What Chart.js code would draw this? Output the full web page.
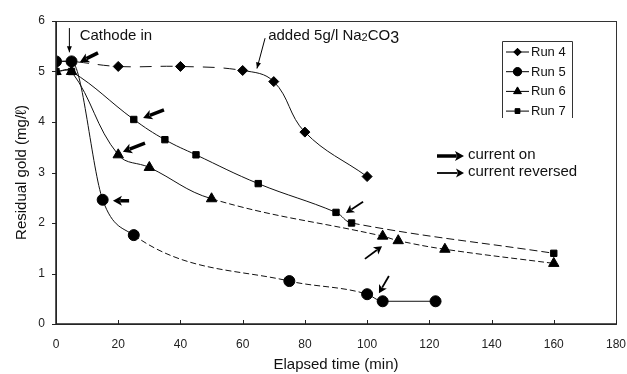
<!DOCTYPE html>
<html>
<head>
<meta charset="utf-8">
<script src="https://cdn.jsdelivr.net/npm/chart.js@4.4.0/dist/chart.umd.min.js"></script>
<style>
  html, body { margin: 0; padding: 0; background: #fff; }
  #wrap { width: 627px; height: 374px; }
</style>
</head>
<body>
<div id="wrap"><canvas id="goldChart" width="627" height="374"></canvas></div>
<script>
// elapsed time (min) and residual gold (mg/l) for each run
var run4X = [0, 5, 20, 40, 60, 70, 80, 100];
var run4Y = [5.2, 5.2, 5.1, 5.1, 5.02, 4.8, 3.8, 2.92];
var run5X = [0, 5, 15, 25, 75, 100, 105, 122];
var run5Y = [5.2, 5.2, 2.46, 1.76, 0.85, 0.59, 0.45, 0.45];
var run6X = [0, 5, 20, 30, 50, 105, 110, 125, 160];
var run6Y = [5.0, 5.0, 3.35, 3.1, 2.48, 1.74, 1.65, 1.48, 1.2];
var run7X = [0, 5, 25, 35, 45, 65, 90, 95, 160];
var run7Y = [5.0, 5.0, 4.05, 3.65, 3.35, 2.78, 2.21, 2.0, 1.4];

var runNames = ['Run 4', 'Run 5', 'Run 6', 'Run 7'];
var xTicks = [0, 20, 40, 60, 80, 100, 120, 140, 160, 180];
var yTicks = [0, 1, 2, 3, 4, 5, 6];

// arrows on the plot, in data units: [x0, y0, x1, y1, thick]
var arrows = [
  [13.5, 5.37, 7.7, 5.19, true],
  [34.7, 4.24, 28.0, 4.08, true],
  [28.6, 3.58, 21.5, 3.41, true],
  [23.5, 2.44, 18.3, 2.44, true],
  [98.7, 2.42, 93.2, 2.20, false],
  [99.3, 1.29, 104.8, 1.54, false],
  [107.0, 0.95, 103.8, 0.61, false]
];

var FONT = '"Liberation Sans", Arial, sans-serif';

function pts(xs, ys) {
  return xs.map(function (x, i) { return { x: x, y: ys[i] }; });
}

var longDash = [12, 9];
var shortDash = [6, 3];

// which segments (by start index) are dashed
function dashFrom(list, pattern) {
  return function (ctx) {
    return list.indexOf(ctx.p0DataIndex) >= 0 ? pattern : undefined;
  };
}

var styles = [
  { pointStyle: 'rectRot', radius: 5, dash: dashFrom([0, 1, 2, 3], longDash), mode: 'default' },
  { pointStyle: 'circle', radius: 5.5, dash: dashFrom([3, 4], shortDash), mode: 'monotone' },
  { pointStyle: 'triangle', radius: 6, dash: dashFrom([4, 5, 6, 7], shortDash), mode: 'default' },
  { pointStyle: 'rect', radius: 4.5, dash: dashFrom([7], [8, 4]), mode: 'default' }
];

var series = [pts(run4X, run4Y), pts(run5X, run5Y), pts(run6X, run6Y), pts(run7X, run7Y)];

var datasets = series.map(function (d, i) {
  return {
    label: runNames[i],
    data: d,
    showLine: true,
    tension: 0.4,
    cubicInterpolationMode: styles[i].mode,
    borderColor: '#111',
    borderWidth: 1,
    backgroundColor: '#000',
    pointStyle: styles[i].pointStyle,
    pointRadius: styles[i].radius,
    pointBackgroundColor: '#000',
    pointBorderColor: '#000',
    segment: { borderDash: styles[i].dash }
  };
});

function drawArrow(ctx, x0, y0, x1, y1, thick) {
  var ang = Math.atan2(y1 - y0, x1 - x0);
  var headLen = thick ? 9 : 8;
  var headW = thick ? 5 : 4.5;
  var c = Math.cos(ang), s = Math.sin(ang);
  ctx.save();
  ctx.strokeStyle = '#000';
  ctx.fillStyle = '#000';
  ctx.lineWidth = thick ? 3.5 : 1.8;
  ctx.beginPath();
  ctx.moveTo(x0, y0);
  ctx.lineTo(x1 - c * headLen * 0.8, y1 - s * headLen * 0.8);
  ctx.stroke();
  ctx.beginPath();
  ctx.moveTo(x1, y1);
  ctx.lineTo(x1 - c * headLen - s * headW, y1 - s * headLen + c * headW);
  ctx.lineTo(x1 - c * headLen * 0.75, y1 - s * headLen * 0.75);
  ctx.lineTo(x1 - c * headLen + s * headW, y1 - s * headLen - c * headW);
  ctx.closePath();
  ctx.fill();
  ctx.restore();
}

function drawThin(ctx, x0, y0, x1, y1) {
  var ang = Math.atan2(y1 - y0, x1 - x0);
  var c = Math.cos(ang), s = Math.sin(ang);
  ctx.save();
  ctx.strokeStyle = '#000';
  ctx.fillStyle = '#000';
  ctx.lineWidth = 1;
  ctx.beginPath();
  ctx.moveTo(x0, y0);
  ctx.lineTo(x1, y1);
  ctx.stroke();
  ctx.beginPath();
  ctx.moveTo(x1, y1);
  ctx.lineTo(x1 - c * 6 - s * 2.5, y1 - s * 6 + c * 2.5);
  ctx.lineTo(x1 - c * 6 + s * 2.5, y1 - s * 6 - c * 2.5);
  ctx.closePath();
  ctx.fill();
  ctx.restore();
}

var decorations = {
  id: 'decorations',
  afterDatasetsDraw: function (chart) {
    var ctx = chart.ctx;
    var a = chart.chartArea;
    var xs = chart.scales.x, ys = chart.scales.y;

    // frame
    ctx.save();
    ctx.strokeStyle = '#333';
    ctx.lineWidth = 1;
    ctx.strokeRect(a.left + 0.5, a.top + 0.5, a.right - a.left, a.bottom - a.top);
    ctx.strokeStyle = '#222';
    ctx.lineWidth = 1.5;
    ctx.beginPath();
    ctx.moveTo(a.left, a.top); ctx.lineTo(a.left, a.bottom); ctx.lineTo(a.right, a.bottom);
    ctx.stroke();
    // tick marks: x inward, y outward
    ctx.lineWidth = 1;
    xTicks.forEach(function (t) {
      var px = Math.round(xs.getPixelForValue(t)) + 0.5;
      ctx.beginPath(); ctx.moveTo(px, a.bottom); ctx.lineTo(px, a.bottom - 4); ctx.stroke();
    });
    yTicks.forEach(function (t) {
      var py = Math.round(ys.getPixelForValue(t)) + 0.5;
      ctx.beginPath(); ctx.moveTo(a.left, py); ctx.lineTo(a.left - 4, py); ctx.stroke();
    });
    ctx.restore();

    // arrows on curves
    arrows.forEach(function (r) {
      drawArrow(ctx, xs.getPixelForValue(r[0]), ys.getPixelForValue(r[1]),
        xs.getPixelForValue(r[2]), ys.getPixelForValue(r[3]), r[4]);
    });

    // notes
    ctx.save();
    ctx.fillStyle = '#111';
    ctx.textBaseline = 'middle';
    ctx.font = '15px ' + FONT;
    ctx.fillText('Cathode in', xs.getPixelForValue(7.6), ys.getPixelForValue(5.71));
    drawThin(ctx, xs.getPixelForValue(4.3), ys.getPixelForValue(5.86), xs.getPixelForValue(4.3), ys.getPixelForValue(5.38));

    var tx = xs.getPixelForValue(68.2), ty = ys.getPixelForValue(5.71);
    var s1 = 'added 5g/l Na';
    ctx.fillText(s1, tx, ty);
    tx += ctx.measureText(s1).width;
    ctx.font = '11px ' + FONT;
    ctx.fillText('2', tx, ty + 2);
    tx += ctx.measureText('2').width;
    ctx.font = '15px ' + FONT;
    ctx.fillText('CO', tx, ty);
    tx += ctx.measureText('CO').width;
    ctx.font = '16px ' + FONT;
    ctx.fillText('3', tx, ty + 3);
    drawThin(ctx, xs.getPixelForValue(67.2), ys.getPixelForValue(5.66), xs.getPixelForValue(64.6), ys.getPixelForValue(5.06));

    // arrow key
    ctx.font = '15px ' + FONT;
    drawArrow(ctx, 437, 156, 464, 156, true);
    ctx.fillText('current on', 468, 155);
    drawArrow(ctx, 437, 173, 464, 173, false);
    ctx.fillText('current reversed', 468, 172);

    // legend box (bottom edge clipped in original)
    ctx.strokeStyle = '#333';
    ctx.lineWidth = 1;
    ctx.beginPath();
    ctx.moveTo(502.5, 118); ctx.lineTo(502.5, 41.5); ctx.lineTo(572.5, 41.5); ctx.lineTo(572.5, 118);
    ctx.stroke();
    ctx.font = '13px ' + FONT;
    runNames.forEach(function (name, i) {
      var ly = 52 + i * 19.7;
      ctx.strokeStyle = '#000';
      ctx.beginPath(); ctx.moveTo(506, ly); ctx.lineTo(529, ly); ctx.stroke();
      Chart.helpers.drawPoint(ctx, {
        pointStyle: styles[i].pointStyle,
        radius: styles[i].radius * 0.75,
        borderWidth: 1
      }, 517.5, ly);
      ctx.fillStyle = '#000';
      ctx.fill();
      ctx.fillStyle = '#111';
      ctx.fillText(name, 531, ly + 0.5);
    });
    ctx.restore();
  }
};

new Chart(document.getElementById('goldChart').getContext('2d'), {
  type: 'scatter',
  data: { datasets: datasets },
  options: {
    responsive: false,
    animation: false,
    layout: { padding: { top: 21, right: 11, left: 0, bottom: 0 } },
    plugins: { legend: { display: false }, tooltip: { enabled: false } },
    scales: {
      x: {
        type: 'linear', min: 0, max: 180,
        afterFit: function (s) { s.height = 50; s.paddingLeft = 0; s.paddingRight = 0; },
        afterBuildTicks: function (s) { s.ticks = xTicks.map(function (v) { return { value: v }; }); },
        grid: { display: false, drawTicks: false },
        border: { display: false },
        ticks: { color: '#222', padding: 13, font: { size: 12, family: FONT } },
        title: { display: true, text: 'Elapsed time (min)', color: '#111', padding: { top: 0, bottom: 0 },
          font: { size: 15, family: FONT } }
      },
      y: {
        min: 0, max: 6,
        afterFit: function (s) { s.width = 56; s.paddingTop = 0; s.paddingBottom = 0; },
        afterBuildTicks: function (s) { s.ticks = yTicks.map(function (v) { return { value: v }; }); },
        grid: { display: false, drawTicks: false },
        border: { display: false },
        ticks: { color: '#222', padding: 11, font: { size: 12, family: FONT } },
        title: { display: true, text: 'Residual gold (mg/ℓ)', color: '#111', padding: { top: 13, bottom: 0 },
          font: { size: 15, family: FONT } }
      }
    }
  },
  plugins: [decorations]
});
</script>
</body>
</html>
